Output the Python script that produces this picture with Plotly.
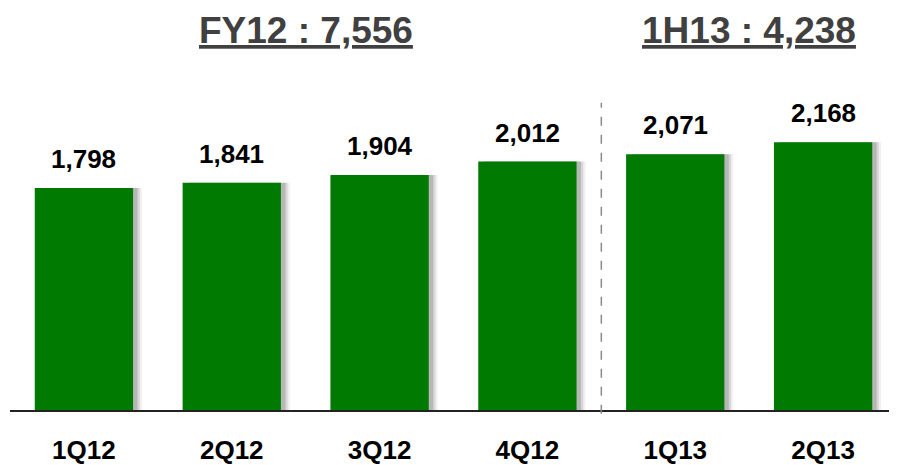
import plotly.graph_objects as go

quarters = ["1Q12", "2Q12", "3Q12", "4Q12", "1Q13", "2Q13"]
revenue = [1798, 1841, 1904, 2012, 2071, 2168]
value_labels = ["1,798", "1,841", "1,904", "2,012", "2,071", "2,168"]
period_titles = ["FY12 : 7,556", "1H13 : 4,238"]

BAR_GREEN = "#017a01"
FONT = "Liberation Sans, Arial, sans-serif"
BAR_WIDTH = 0.665

fig = go.Figure()

# soft drop shadow on the right side of each bar
for shift, alpha in [(0.06, 0.08), (0.045, 0.14), (0.03, 0.20)]:
    fig.add_trace(
        go.Bar(
            x=quarters,
            y=revenue,
            width=BAR_WIDTH,
            offset=-BAR_WIDTH / 2 + shift,
            marker={"color": f"rgba(60,60,60,{alpha})", "line": {"width": 0}},
            hoverinfo="skip",
            showlegend=False,
        )
    )

fig.add_trace(
    go.Bar(
        x=quarters,
        y=revenue,
        width=BAR_WIDTH,
        offset=-BAR_WIDTH / 2,
        marker={"color": BAR_GREEN, "line": {"width": 0}},
        showlegend=False,
    )
)

for q, v, lab in zip(quarters, revenue, value_labels):
    fig.add_annotation(
        x=q, y=v, text=f"<b>{lab}</b>", showarrow=False,
        yanchor="bottom", yshift=12,
        font={"family": FONT, "size": 26, "color": "#000000"},
    )

# period headers
for xc, title in zip([1.5, 4.5], period_titles):
    fig.add_annotation(
        x=xc, y=1.183, xref="x", yref="paper", text=f"<b><u>{title}</u></b>",
        showarrow=False, yanchor="middle",
        font={"family": FONT, "size": 37, "color": "#404040"},
    )

# divider between years
fig.add_shape(
    type="line", x0=3.5, x1=3.5, xref="x", y0=-0.012, y1=0.957, yref="paper",
    line={"color": "#8a8a8a", "width": 1.5, "dash": "dash"},
)

# page body adds an 8px margin, so the figure is sized to fit the window
fig.update_layout(
    width=889,
    height=457,
    barmode="overlay",
    paper_bgcolor="white",
    plot_bgcolor="white",
    margin={"l": 2, "r": 0, "t": 81, "b": 48},
    font={"family": FONT},
)
fig.update_xaxes(
    range=[-0.5, 5.5],
    showline=True, linecolor="#222222", linewidth=2,
    showgrid=False, ticks="",
    tickfont={"family": FONT, "size": 26, "color": "#000000"},
    tickprefix="<b>", ticksuffix="</b>",
    ticklabelstandoff=16,
)
fig.update_yaxes(range=[0, 2600], visible=False, showgrid=False)

fig.write_html("out.html")
